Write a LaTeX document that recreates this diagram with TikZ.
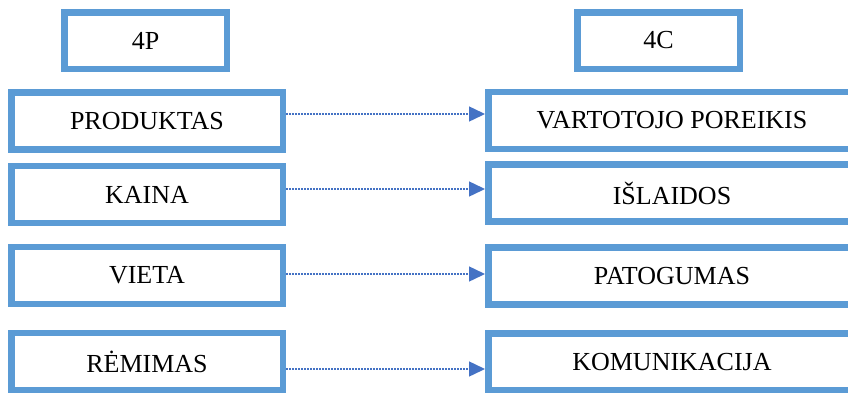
\documentclass[tikz,border=0pt]{standalone}
\usepackage{fontspec}
\setmainfont{Liberation Serif}
\usetikzlibrary{positioning,arrows.meta}
\definecolor{boxblue}{HTML}{5B9BD5}
\definecolor{arrblue}{HTML}{4472C4}
\tikzstyle{lbox}=[draw=boxblue, line width=3.25pt, fill=white, inner sep=0pt, minimum width=135.75pt, minimum height=28.5pt, font=\fontsize{13}{15}\selectfont]
\tikzstyle{rbox}=[lbox, minimum width=183.75pt]
\tikzstyle{hbox}=[lbox, minimum width=81.25pt, minimum height=28.25pt]

\begin{document}
\begin{tikzpicture}[x=0.5pt, y=-0.5pt,
	link/.style = {arrblue, line width=0.75pt, dash pattern=on 0.75pt off 0.75pt, -{Triangle[length=8pt, width=7.5pt]}}]
	
	\clip (0,0) rectangle (848,392);
	
	\node[hbox] (P4) at (145.5, 40.5) {4P};
	\node[hbox] (C4) at (658.5, 40.5) {4C};
	
	\node[lbox] (PROD) at (147, 121) {PRODUKTAS};
	\node[lbox] (KAIN) at (147, 194.5) {KAINA};
	\node[lbox] (VIET) at (147, 275.5) {VIETA};
	\node[lbox] (REM) at (147, 361.5) {RĖMIMAS};
	
	\node[rbox] (VART) at (672, 120.5) {VARTOTOJO POREIKIS};
	\node[rbox] (ISL) at (672, 193) {IŠLAIDOS};
	\node[rbox] (PAT) at (672, 276) {PATOGUMAS};
	\node[rbox] (KOM) at (672, 362) {KOMUNIKACIJA};
	
	\draw[link] ([yshift=3.5pt]PROD.east) -- ([yshift=3.5pt]PROD.east -| VART.west);
	
	\draw[link] ([yshift=2.75pt]KAIN.east) -- ([yshift=2.75pt]KAIN.east -| ISL.west);
	
	\draw[link] ([yshift=0.75pt]VIET.east) -- ([yshift=0.75pt]VIET.east -| PAT.west);
	
	\draw[link] ([yshift=-3.75pt]REM.east) -- ([yshift=-3.75pt]REM.east -| KOM.west);
	
	\end{tikzpicture}
\end{document}
